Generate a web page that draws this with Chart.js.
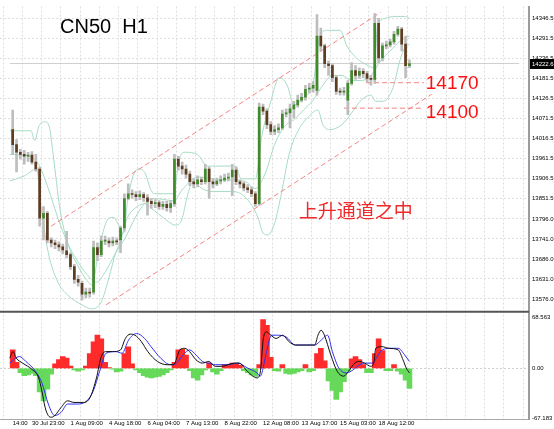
<!DOCTYPE html>
<html>
<head>
<meta charset="utf-8">
<script src="https://cdn.jsdelivr.net/npm/chart.js@4.4.1/dist/chart.umd.min.js"></script>
<style>
  html, body { margin: 0; padding: 0; background: #fff; }
  canvas { display: block; }
</style>
</head>
<body>
<canvas id="chart" width="554" height="429"></canvas>
<script>
// CN50 H1 candles (one entry per bar, prices)
const opens = [
  14041, 14000, 13979, 13973, 13968, 13971, 13952, 13933, 13798, 13811,
  13738, 13730, 13725, 13719, 13708, 13698, 13665, 13630, 13619, 13589,
  13595, 13595, 13717, 13698, 13735, 13735, 13730, 13735, 13738, 13771,
  13852, 13865, 13863, 13857, 13863, 13854, 13844, 13838, 13841, 13830,
  13836, 13827, 13838, 13960, 13941, 13933, 13919, 13898, 13892, 13903,
  13898, 13933, 13898, 13892, 13900, 13903, 13908, 13911, 13930, 13898,
  13892, 13881, 13876, 13865, 13838, 14103, 14092, 14055, 14036, 14041,
  14046, 14084, 14087, 14098, 14109, 14122, 14130, 14152, 14155, 14149,
  14298, 14271, 14222, 14217, 14184, 14146, 14144, 14122, 14168, 14203,
  14190, 14201, 14195, 14182, 14179, 14333, 14238, 14271, 14274, 14282,
  14303, 14317, 14276, 14217
];
const highs = [
  14095, 14014, 13987, 13984, 13979, 13981, 13973, 13938, 13830, 13817,
  13744, 13738, 13733, 13727, 13762, 13703, 13671, 13641, 13625, 13606,
  13606, 13735, 13730, 13749, 13749, 13744, 13746, 13744, 13776, 13865,
  13892, 13876, 13871, 13873, 13868, 13863, 13852, 13849, 13846, 13844,
  13844, 13846, 13973, 13968, 13952, 13944, 13927, 13906, 13914, 13911,
  13946, 13938, 13906, 13908, 13914, 13919, 13922, 13946, 13938, 13903,
  13898, 13890, 13884, 13871, 14114, 14111, 14098, 14063, 14052, 14057,
  14095, 14098, 14111, 14119, 14136, 14141, 14163, 14168, 14173, 14357,
  14320, 14276, 14230, 14222, 14190, 14155, 14157, 14176, 14225, 14217,
  14211, 14209, 14201, 14190, 14360, 14347, 14279, 14284, 14290, 14311,
  14325, 14322, 14298, 14233
];
const lows = [
  13973, 13925, 13960, 13946, 13954, 13946, 13927, 13776, 13738, 13730,
  13719, 13714, 13708, 13700, 13689, 13657, 13619, 13611, 13573, 13579,
  13581, 13589, 13681, 13692, 13725, 13719, 13722, 13725, 13703, 13762,
  13849, 13852, 13846, 13849, 13844, 13806, 13825, 13827, 13822, 13822,
  13817, 13814, 13830, 13930, 13919, 13908, 13887, 13881, 13884, 13890,
  13892, 13852, 13881, 13887, 13892, 13898, 13900, 13860, 13890, 13881,
  13873, 13868, 13857, 13830, 13833, 14082, 14044, 14027, 14027, 14033,
  14041, 14076, 14046, 14073, 14103, 14117, 14122, 14141, 14144, 14136,
  14257, 14211, 14190, 14173, 14138, 14136, 14136, 14082, 14163, 14179,
  14182, 14184, 14173, 14163, 14168, 14225, 14230, 14263, 14268, 14276,
  14298, 14257, 14184, 14211
];
const closes = [
  14000, 13979, 13973, 13968, 13971, 13952, 13933, 13798, 13811, 13738,
  13730, 13725, 13719, 13711, 13698, 13665, 13630, 13622, 13589, 13595,
  13592, 13717, 13698, 13735, 13738, 13730, 13735, 13733, 13771, 13852,
  13865, 13863, 13857, 13863, 13854, 13844, 13838, 13841, 13830, 13836,
  13827, 13838, 13960, 13941, 13933, 13919, 13898, 13892, 13903, 13898,
  13933, 13898, 13892, 13900, 13903, 13908, 13911, 13930, 13898, 13892,
  13881, 13876, 13865, 13838, 14103, 14092, 14055, 14036, 14041, 14046,
  14084, 14087, 14098, 14109, 14122, 14130, 14152, 14155, 14163, 14298,
  14271, 14222, 14217, 14184, 14146, 14144, 14146, 14168, 14203, 14190,
  14201, 14195, 14182, 14179, 14333, 14238, 14271, 14274, 14282, 14303,
  14317, 14276, 14217, 14222.6
];
const lastPrice = 14222.6;

// Bollinger bands [bar, price]
const bandUpper = [[-0.75,14038],[4.75,14038],[5.75,14011],[6.75,14049],[8.25,14063],[9.5,14049],[10.5,13973],[12.25,13825],[14.25,13730],[16.75,13671],[19.25,13627],[20.75,13614],[21.75,13671],[23.25,13752],[25,13798],[26.25,13800],[27.5,13779],[28.75,13757],[29.75,13838],[31.25,13914],[33,13933],[34.5,13919],[35.75,13879],[36.75,13865],[41.75,13865],[43.25,13960],[44.75,13979],[48,13973],[50.5,13941],[58,13941],[59.25,13906],[63,13906],[64.75,14027],[66.75,14109],[69.25,14184],[71.25,14163],[73,14109],[75.5,14130],[78,14168],[79.75,14298],[81.75,14314],[85,14314],[86.75,14271],[89.25,14238],[92.25,14217],[93.75,14211],[94.75,14325],[96.75,14347],[99.25,14352],[101.75,14352],[103,14347]];
const bandMiddle = [[-0.75,13973],[4.25,13968],[6.75,13946],[9.25,13879],[11.75,13798],[14.25,13730],[16.75,13681],[19.25,13644],[21.75,13622],[24.25,13654],[26.75,13703],[29.25,13744],[31.75,13798],[34.25,13838],[36.75,13852],[41.75,13846],[44.25,13879],[48,13911],[51.75,13906],[56.75,13903],[60.5,13898],[63,13879],[65.5,13919],[68,14000],[70.5,14049],[73,14068],[75.5,14095],[78,14122],[80.5,14163],[83,14190],[85.5,14190],[88,14176],[90.5,14176],[93,14190],[95.5,14230],[98,14257],[100.5,14284],[103,14298]];
const bandLower = [[-0.75,13900],[3,13914],[6.25,13933],[7.25,13838],[9.25,13703],[11.75,13622],[14.25,13587],[18,13560],[20.5,13549],[23,13568],[25,13635],[26.75,13703],[28,13735],[29.75,13798],[31.75,13825],[34.25,13838],[36,13825],[39.25,13798],[42.25,13779],[43.75,13790],[45.5,13865],[46.75,13898],[49.25,13879],[51.75,13871],[56.75,13871],[59.25,13865],[61.75,13838],[63.75,13798],[65,13757],[66.25,13752],[68,13784],[69.75,13865],[71.75,13973],[74.25,14041],[76.75,14076],[79.25,14095],[80.5,14055],[82.25,14041],[85.5,14055],[88,14087],[90.5,14122],[93,14136],[94.25,14119],[96.25,14119],[98.75,14157],[100.5,14230],[101.75,14265],[103,14276]];

// hand-drawn channel and levels [bar, price]
const channelTop = [[10, 13776], [95.5, 14363]];
const channelBottom = [[24.25, 13560], [108.75, 14138]];
const levels = [14170, 14100];
const levelStart = [91.75, 86];
const levelEnd = 106.75;

// MACD panel
const macdHist = [
  25, 8, -6, -10, -9, -7, -10, -32, -44, -28,
  -8, 6, 12, 16, 14, 3, -2, -4, -2, 3,
  20, 36, 45, 40, 8, 1, -1, -5, -4, 20,
  29, 6, -2, -6, -10, -12, -13, -12, -11, -9,
  -6, -2, 8, 25, 26, 18, -3, -13, -16, -9,
  -2, 7, -5, -8, -3, 5, 4, 7, 6, 4,
  -3, -6, -9, -11, 5, 66, 58, 15, -3, -4,
  5, -7, -8, -7, -5, -3, 5, -5, -3, 20,
  27, 10, -17, -30, -42, -32, -18, -4, 13, 16,
  12, 5, -6, -6, 20, 40, 24, -3, -3, 5,
  -4, -8, -16, -27
];
const macdMain = [[-0.75,13.8],[0.08,22.6],[0.92,13.8],[2.58,7.1],[5.08,-1.8],[6.75,-12.9],[7.58,-30.6],[8.42,-52.8],[9.25,-63.9],[10.08,-66.1],[10.92,-63.9],[12.58,-52.8],[14.25,-43.9],[15.92,-46.1],[18.42,-46.1],[20.08,-39.5],[21.75,-12.9],[23,16],[24.25,22.6],[25.92,22.6],[28,24.9],[29.25,40.4],[30.5,46.2],[31.75,44.8],[33.42,36],[35.08,22.6],[37.58,9.3],[40.08,4.9],[41.75,4.9],[43.42,24.9],[44.67,27.1],[45.92,22.6],[47.58,11.6],[49.25,7.1],[50.92,9.3],[52.58,2.7],[54.25,2.7],[57.58,7.1],[58.83,7.1],[60.92,-4],[63.42,-12.9],[64.25,-6.2],[65.08,40.4],[65.92,49.3],[66.75,46],[68.42,40.4],[70.08,44.8],[71.75,36],[73.42,31.5],[75.92,31.5],[78.42,31.5],[79.25,44.8],[80.08,51.5],[80.92,44.8],[82.58,18.2],[84.25,-4],[85.92,-10.6],[87.17,-4],[88.83,7.1],[90.08,9.3],[91.33,7.1],[93,2.7],[93.83,9.3],[94.25,27.1],[95.92,29.3],[97.58,27.1],[100.08,24.9],[101.33,11.6],[102.17,0.5],[103,-6.2]];
const macdSignal = [[-0.75,7.1],[1.75,16],[3.42,9.3],[5.92,-4],[7.58,-19.5],[9.25,-48.3],[10.92,-63.9],[12.58,-59.4],[14.25,-48.3],[16.75,-48.3],[19.25,-43.9],[20.92,-30.6],[22.58,-4],[24.25,20.4],[26.75,22.6],[28.42,20.4],[30.08,38.2],[32.17,47.1],[34.25,40.4],[35.92,29.3],[38.42,13.8],[40.92,4.9],[42.58,7.1],[44.25,18.2],[45.92,24.9],[47.58,18.2],[49.25,9.3],[50.92,7.1],[52.58,4.9],[55.92,4.9],[58.42,7.1],[60.92,0.5],[63.42,-6.2],[64.25,-10.6],[65.92,22.6],[67.17,44.8],[68.42,44.8],[70.92,42.6],[73.42,31.5],[78.42,31.5],[79.67,36],[81.75,44.8],[83,22.6],[84.67,0.5],[86.75,-6.2],[88.42,-1.8],[90.08,4.9],[91.75,7.1],[93.42,7.1],[94.67,16],[95.92,24.9],[98.42,27.1],[100.08,27.1],[101.75,18.2],[103,9.3]];

// axes
const priceTicks = [14346.5, 14291.5, 14236.5, 14181.5, 14126.5, 14071.5, 14016.5, 13961.5, 13906.5, 13851.5, 13796.0, 13741.0, 13686.0, 13631.0, 13576.0];
const macdTicks = [68.563, 0, -67.183];
const timeLabels = {
  0: '14:00', 5: '30 Jul 23:00', 15: '1 Aug 09:00', 25: '4 Aug 18:00', 35: '6 Aug 04:00',
  45: '7 Aug 13:00', 55: '8 Aug 22:00', 65: '12 Aug 08:00', 75: '13 Aug 17:00',
  85: '15 Aug 03:00', 95: '18 Aug 12:00'
};

const pts = arr => arr.map(p => ({ x: p[0], y: p[1] }));
const bull = '#3f8a2a', bear = '#5e3c20';
const bandColor = '#a6dcc3';
const dashRed = 'rgba(245,110,110,0.85)';
const tickFont = { family: '"Liberation Sans", Arial, sans-serif', size: 6 };

const overlay = {
  id: 'overlay',
  afterDraw(chart) {
    const { ctx, chartArea, scales: { x, y, y2 } } = chart;
    ctx.save();
    // panel separator
    ctx.strokeStyle = '#555';
    ctx.lineWidth = 2;
    ctx.beginPath();
    ctx.moveTo(chartArea.left, y2.top);
    ctx.lineTo(chartArea.right, y2.top);
    ctx.stroke();

    ctx.fillStyle = '#000';
    ctx.font = '20px "Liberation Sans", Arial, sans-serif';
    ctx.textAlign = 'left';
    ctx.textBaseline = 'alphabetic';
    ctx.fillText('CN50  H1', 60, 33);

    ctx.fillStyle = '#ff1010';
    ctx.font = '19px "Liberation Sans", Arial, sans-serif';
    ctx.textBaseline = 'middle';
    ctx.fillText(String(levels[0]), x.getPixelForValue(107.25), y.getPixelForValue(levels[0]) + 1);
    ctx.fillText(String(levels[1]), x.getPixelForValue(107.25), y.getPixelForValue(levels[1]) + 5);

    ctx.fillStyle = '#ee2a2a';
    ctx.font = '19px "Noto Sans CJK SC", sans-serif';
    ctx.fillText('上升通道之中', x.getPixelForValue(74.25), y.getPixelForValue(13817));

    // current price tag
    const py = Math.round(y.getPixelForValue(lastPrice));
    ctx.fillStyle = '#000';
    ctx.fillRect(chartArea.right + 1, py - 5, 25, 10);
    ctx.fillStyle = '#fff';
    ctx.font = '6px "Liberation Sans", Arial, sans-serif';
    ctx.fillText(lastPrice.toFixed(1), chartArea.right + 3, py);
    ctx.restore();
  }
};

new Chart(document.getElementById('chart'), {
  data: {
    datasets: [
      { type: 'line', label: 'upper', data: pts(bandUpper), borderColor: bandColor, borderWidth: 1, pointRadius: 0, cubicInterpolationMode: 'monotone', order: 9 },
      { type: 'line', label: 'middle', data: pts(bandMiddle), borderColor: bandColor, borderWidth: 1, pointRadius: 0, cubicInterpolationMode: 'monotone', order: 9 },
      { type: 'line', label: 'lower', data: pts(bandLower), borderColor: bandColor, borderWidth: 1, pointRadius: 0, cubicInterpolationMode: 'monotone', order: 9 },
      { type: 'line', label: 'price', data: [{ x: -0.75, y: lastPrice }, { x: 131.5, y: lastPrice }], borderColor: '#cfcfcf', borderWidth: 1, pointRadius: 0, order: 10 },
      { type: 'line', label: 'channel top', data: pts(channelTop), borderColor: dashRed, borderWidth: 1, borderDash: [5, 3], pointRadius: 0, order: 8 },
      { type: 'line', label: 'channel bottom', data: pts(channelBottom), borderColor: dashRed, borderWidth: 1, borderDash: [5, 3], pointRadius: 0, order: 8 },
      ...levels.map((lv, k) => ({ type: 'line', label: 'level ' + lv, data: [{ x: levelStart[k], y: lv }, { x: levelEnd, y: lv }], borderColor: dashRed, borderWidth: 1, borderDash: [5, 3], pointRadius: 0, order: 8 })),
      { type: 'bar', label: 'wicks', data: lows.map((l, i) => ({ x: i, y: [l, highs[i]] })), backgroundColor: '#bdbdbd', barThickness: 2, grouped: false, order: 7 },
      { type: 'bar', label: 'bodies', data: opens.map((o, i) => ({ x: i, y: [o, closes[i]] })),
        backgroundColor: c => closes[c.dataIndex] >= opens[c.dataIndex] ? bull : bear,
        barThickness: 2, minBarLength: 1, grouped: false, order: 6 },
      { type: 'bar', label: 'hist', yAxisID: 'y2', data: macdHist.map((v, i) => ({ x: i, y: v })),
        backgroundColor: c => macdHist[c.dataIndex] >= 0 ? '#ff2b2b' : '#66d95b',
        barThickness: 5, grouped: false, order: 5 },
      { type: 'line', label: 'signal', yAxisID: 'y2', data: pts(macdSignal), borderColor: '#2f2ff0', borderWidth: 1, pointRadius: 0, cubicInterpolationMode: 'monotone', order: 2 },
      { type: 'line', label: 'macd', yAxisID: 'y2', data: pts(macdMain), borderColor: '#111', borderWidth: 1, pointRadius: 0, cubicInterpolationMode: 'monotone', order: 1 }
    ]
  },
  options: {
    responsive: false,
    animation: false,
    layout: { padding: 0 },
    plugins: { legend: { display: false }, tooltip: { enabled: false } },
    scales: {
      x: {
        type: 'linear', position: 'bottom', min: -0.75, max: 131.5, bounds: 'data',
        afterBuildTicks: s => { s.ticks = []; for (let v = 0; v <= 130; v += 5) s.ticks.push({ value: v }); },
        afterFit: s => { s.height = 10; },
        ticks: { callback: v => timeLabels[v] || '', align: 'start', maxRotation: 0, autoSkip: false, font: tickFont, color: '#000', padding: 1 },
        grid: { color: '#dedede', drawTicks: false },
        border: { display: true, color: '#a8a8a8', dash: [2, 2] }
      },
      y: {
        type: 'linear', position: 'right', stack: 'panels', stackWeight: 310, min: 13541, max: 14379, bounds: 'data',
        afterBuildTicks: s => { s.ticks = priceTicks.map(v => ({ value: v })); },
        afterFit: s => { s.width = 25; },
        ticks: { callback: v => v.toFixed(1), font: tickFont, color: '#000', padding: 3 },
        grid: { color: '#dedede', drawTicks: false },
        border: { color: '#9c9c9c', width: 2, dash: [2, 2] }
      },
      y2: {
        type: 'linear', position: 'right', stack: 'panels', stackWeight: 109, min: -68.5, max: 76.55, bounds: 'data',
        afterBuildTicks: s => { s.ticks = macdTicks.map(v => ({ value: v })); },
        afterFit: s => { s.width = 25; },
        ticks: { callback: v => v === 0 ? '0.00' : String(v), font: tickFont, color: '#000', padding: 3 },
        grid: { color: c => c.tick && c.tick.value === 0 ? '#d0d0d0' : 'rgba(0,0,0,0)', drawTicks: false },
        border: { color: '#9c9c9c', width: 2, dash: [2, 2] }
      }
    }
  },
  plugins: [overlay]
});
</script>
</body>
</html>
